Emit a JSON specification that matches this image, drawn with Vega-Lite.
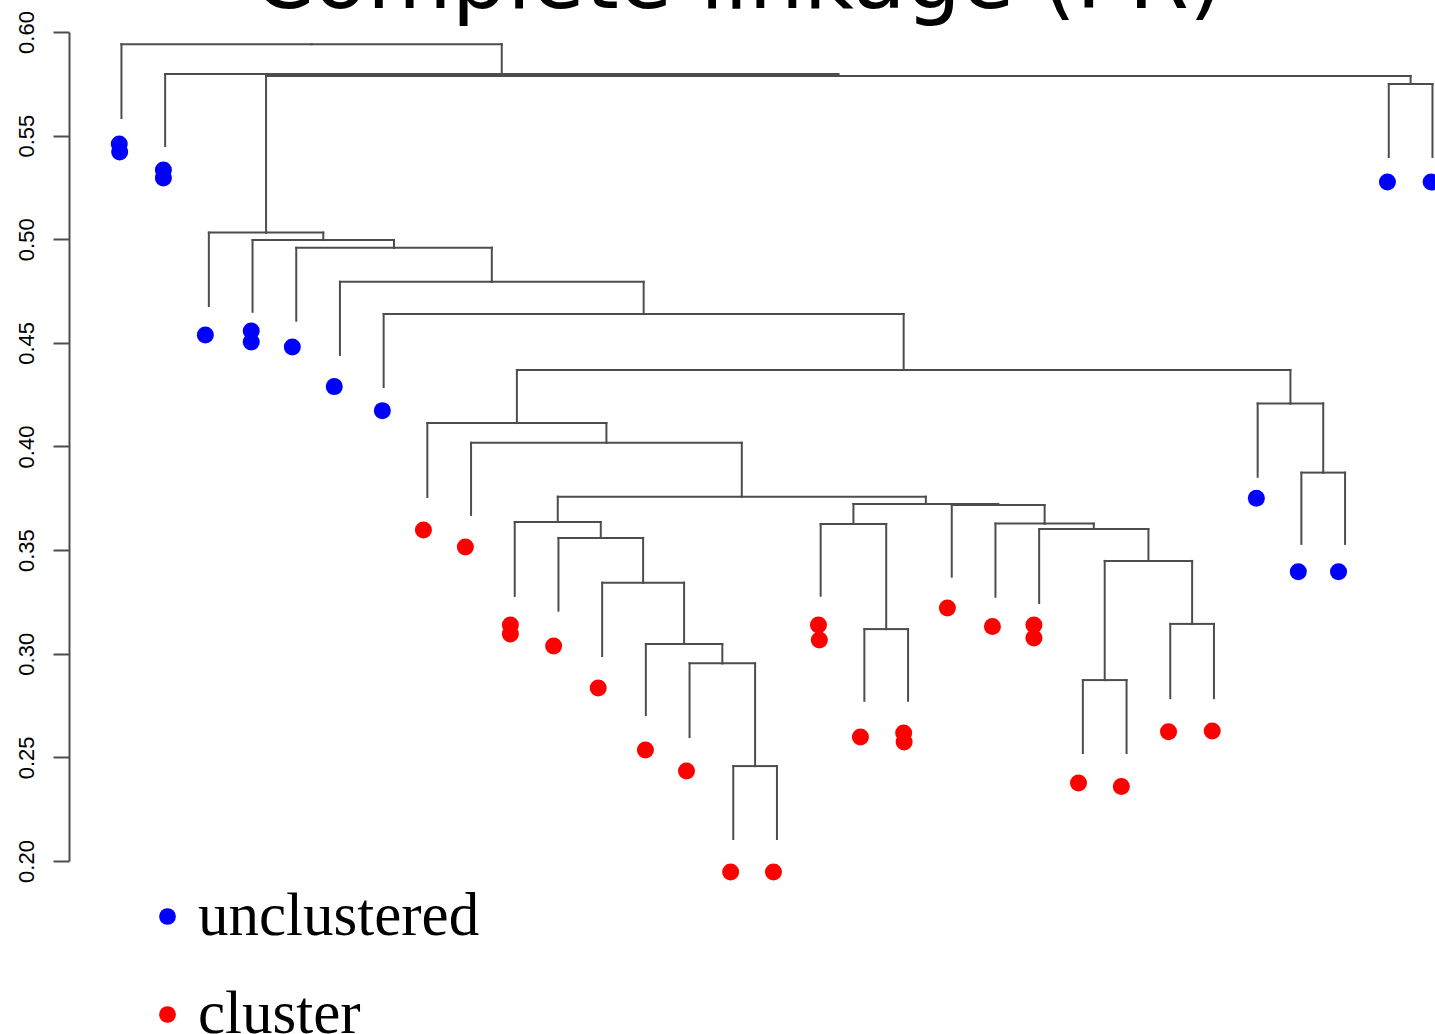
{
  "$schema": "https://vega.github.io/schema/vega-lite/v6.json",
  "autosize": {"type": "none"},
  "padding": {"left": 69, "top": 32, "right": 0, "bottom": 173},
  "width": 1366,
  "height": 829,
  "background": "white",
  "title": {"text": "Complete linkage (PR)", "font": "DejaVu Sans", "fontSize": 87, "fontWeight": "normal", "color": "black", "anchor": "middle", "baseline": "alphabetic", "offset": -84, "dx": -14, "frame": "group"},
  "config": {"view": {"stroke": null}, "axis": {"grid": false}},
  "datasets": {
    "links": [
      {"cx": 1, "ch": 0.5585, "px": 5.3512, "ph": 0.5941},
      {"cx": 9.7023, "ch": 0.5797, "px": 5.3512, "ph": 0.5941},
      {"cx": 2, "ch": 0.5450, "px": 9.7023, "ph": 0.5797},
      {"cx": 17.4047, "ch": 0.5788, "px": 9.7023, "ph": 0.5797},
      {"cx": 4.3094, "ch": 0.5032, "px": 17.4047, "ph": 0.5788},
      {"cx": 30.5, "ch": 0.5749, "px": 17.4047, "ph": 0.5788},
      {"cx": 30, "ch": 0.5397, "px": 30.5, "ph": 0.5749},
      {"cx": 31, "ch": 0.5397, "px": 30.5, "ph": 0.5749},
      {"cx": 3, "ch": 0.4678, "px": 4.3094, "ph": 0.5032},
      {"cx": 5.6187, "ch": 0.4996, "px": 4.3094, "ph": 0.5032},
      {"cx": 4, "ch": 0.4650, "px": 5.6187, "ph": 0.4996},
      {"cx": 7.2374, "ch": 0.4959, "px": 5.6187, "ph": 0.4996},
      {"cx": 5, "ch": 0.4607, "px": 7.2374, "ph": 0.4959},
      {"cx": 9.4749, "ch": 0.4795, "px": 7.2374, "ph": 0.4959},
      {"cx": 6, "ch": 0.4442, "px": 9.4749, "ph": 0.4795},
      {"cx": 12.9497, "ch": 0.4639, "px": 9.4749, "ph": 0.4795},
      {"cx": 7, "ch": 0.4287, "px": 12.9497, "ph": 0.4639},
      {"cx": 18.8994, "ch": 0.4369, "px": 12.9497, "ph": 0.4639},
      {"cx": 10.0488, "ch": 0.4113, "px": 18.8994, "ph": 0.4369},
      {"cx": 27.75, "ch": 0.4208, "px": 18.8994, "ph": 0.4369},
      {"cx": 8, "ch": 0.3756, "px": 10.0488, "ph": 0.4113},
      {"cx": 12.0977, "ch": 0.4018, "px": 10.0488, "ph": 0.4113},
      {"cx": 9, "ch": 0.3670, "px": 12.0977, "ph": 0.4018},
      {"cx": 15.1953, "ch": 0.3758, "px": 12.0977, "ph": 0.4018},
      {"cx": 10.9844, "ch": 0.3636, "px": 15.1953, "ph": 0.3758},
      {"cx": 19.4063, "ch": 0.3723, "px": 15.1953, "ph": 0.3758},
      {"cx": 10, "ch": 0.3279, "px": 10.9844, "ph": 0.3636},
      {"cx": 11.9688, "ch": 0.3559, "px": 10.9844, "ph": 0.3636},
      {"cx": 11, "ch": 0.3208, "px": 11.9688, "ph": 0.3559},
      {"cx": 12.9375, "ch": 0.3343, "px": 11.9688, "ph": 0.3559},
      {"cx": 12, "ch": 0.2989, "px": 12.9375, "ph": 0.3343},
      {"cx": 13.875, "ch": 0.3047, "px": 12.9375, "ph": 0.3343},
      {"cx": 13, "ch": 0.2704, "px": 13.875, "ph": 0.3047},
      {"cx": 14.75, "ch": 0.2954, "px": 13.875, "ph": 0.3047},
      {"cx": 14, "ch": 0.2598, "px": 14.75, "ph": 0.2954},
      {"cx": 15.5, "ch": 0.2458, "px": 14.75, "ph": 0.2954},
      {"cx": 15, "ch": 0.2106, "px": 15.5, "ph": 0.2458},
      {"cx": 16, "ch": 0.2106, "px": 15.5, "ph": 0.2458},
      {"cx": 17.75, "ch": 0.3626, "px": 19.4063, "ph": 0.3723},
      {"cx": 21.0625, "ch": 0.3718, "px": 19.4063, "ph": 0.3723},
      {"cx": 17, "ch": 0.3280, "px": 17.75, "ph": 0.3626},
      {"cx": 18.5, "ch": 0.3119, "px": 17.75, "ph": 0.3626},
      {"cx": 18, "ch": 0.2773, "px": 18.5, "ph": 0.3119},
      {"cx": 19, "ch": 0.2773, "px": 18.5, "ph": 0.3119},
      {"cx": 20, "ch": 0.3372, "px": 21.0625, "ph": 0.3718},
      {"cx": 22.125, "ch": 0.3628, "px": 21.0625, "ph": 0.3718},
      {"cx": 21, "ch": 0.3275, "px": 22.125, "ph": 0.3628},
      {"cx": 23.25, "ch": 0.3602, "px": 22.125, "ph": 0.3628},
      {"cx": 22, "ch": 0.3245, "px": 23.25, "ph": 0.3602},
      {"cx": 24.5, "ch": 0.3448, "px": 23.25, "ph": 0.3602},
      {"cx": 23.5, "ch": 0.2873, "px": 24.5, "ph": 0.3448},
      {"cx": 25.5, "ch": 0.3144, "px": 24.5, "ph": 0.3448},
      {"cx": 23, "ch": 0.2521, "px": 23.5, "ph": 0.2873},
      {"cx": 24, "ch": 0.2521, "px": 23.5, "ph": 0.2873},
      {"cx": 25, "ch": 0.2786, "px": 25.5, "ph": 0.3144},
      {"cx": 26, "ch": 0.2786, "px": 25.5, "ph": 0.3144},
      {"cx": 27, "ch": 0.3854, "px": 27.75, "ph": 0.4208},
      {"cx": 28.5, "ch": 0.3874, "px": 27.75, "ph": 0.4208},
      {"cx": 28, "ch": 0.3530, "px": 28.5, "ph": 0.3874},
      {"cx": 29, "ch": 0.3530, "px": 28.5, "ph": 0.3874}
    ],
    "dots": [
      {"idx": 0.95, "v": 0.5460, "type": "unclustered"},
      {"idx": 0.96, "v": 0.5421, "type": "unclustered"},
      {"idx": 1.96, "v": 0.5334, "type": "unclustered"},
      {"idx": 1.96, "v": 0.5296, "type": "unclustered"},
      {"idx": 2.92, "v": 0.4538, "type": "unclustered"},
      {"idx": 3.97, "v": 0.4557, "type": "unclustered"},
      {"idx": 3.97, "v": 0.4504, "type": "unclustered"},
      {"idx": 4.91, "v": 0.4480, "type": "unclustered"},
      {"idx": 5.87, "v": 0.4289, "type": "unclustered"},
      {"idx": 6.97, "v": 0.4173, "type": "unclustered"},
      {"idx": 7.91, "v": 0.3597, "type": "cluster"},
      {"idx": 8.87, "v": 0.3515, "type": "cluster"},
      {"idx": 9.90, "v": 0.3139, "type": "cluster"},
      {"idx": 9.90, "v": 0.3095, "type": "cluster"},
      {"idx": 10.89, "v": 0.3037, "type": "cluster"},
      {"idx": 11.91, "v": 0.2835, "type": "cluster"},
      {"idx": 12.99, "v": 0.2536, "type": "cluster"},
      {"idx": 13.93, "v": 0.2434, "type": "cluster"},
      {"idx": 14.94, "v": 0.1947, "type": "cluster"},
      {"idx": 15.92, "v": 0.1947, "type": "cluster"},
      {"idx": 16.95, "v": 0.3139, "type": "cluster"},
      {"idx": 16.97, "v": 0.3066, "type": "cluster"},
      {"idx": 17.91, "v": 0.2598, "type": "cluster"},
      {"idx": 18.90, "v": 0.2618, "type": "cluster"},
      {"idx": 18.91, "v": 0.2574, "type": "cluster"},
      {"idx": 19.90, "v": 0.3221, "type": "cluster"},
      {"idx": 20.93, "v": 0.3131, "type": "cluster"},
      {"idx": 21.88, "v": 0.3139, "type": "cluster"},
      {"idx": 21.88, "v": 0.3076, "type": "cluster"},
      {"idx": 22.90, "v": 0.2376, "type": "cluster"},
      {"idx": 23.88, "v": 0.2359, "type": "cluster"},
      {"idx": 24.96, "v": 0.2624, "type": "cluster"},
      {"idx": 25.96, "v": 0.2627, "type": "cluster"},
      {"idx": 26.97, "v": 0.3750, "type": "unclustered"},
      {"idx": 27.93, "v": 0.3396, "type": "unclustered"},
      {"idx": 28.85, "v": 0.3396, "type": "unclustered"},
      {"idx": 29.97, "v": 0.5276, "type": "unclustered"},
      {"idx": 30.97, "v": 0.5276, "type": "unclustered"}
    ]
  },
  "layer": [
    {
      "data": {"name": "links"},
      "mark": {"type": "rule", "color": "#4d4d4d", "strokeWidth": 2, "strokeCap": "square"},
      "encoding": {
        "x": {"field": "cx", "type": "quantitative", "scale": {"domain": [-0.2, 31.058], "nice": false, "zero": false}, "axis": null},
        "y": {"field": "ch", "type": "quantitative", "scale": {"domain": [0.2, 0.6], "nice": false, "zero": false},
          "axis": {"title": null, "values": [0.2, 0.25, 0.3, 0.35, 0.4, 0.45, 0.5, 0.55, 0.6], "format": ".2f", "tickSize": 16, "tickColor": "#4d4d4d", "tickWidth": 2, "domainColor": "#4d4d4d", "domainWidth": 2, "labelAngle": 270, "labelAlign": "center", "labelBaseline": "alphabetic", "labelPadding": 20, "labelFont": "Liberation Sans", "labelFontSize": 22, "labelColor": "black", "grid": false, "labelOverlap": false, "labelFlush": false}},
        "y2": {"field": "ph"}
      }
    },
    {
      "data": {"name": "links"},
      "mark": {"type": "rule", "color": "#4d4d4d", "strokeWidth": 2, "strokeCap": "square"},
      "encoding": {
        "x": {"field": "cx", "type": "quantitative"},
        "x2": {"field": "px"},
        "y": {"field": "ph", "type": "quantitative"}
      }
    },
    {
      "data": {"name": "dots"},
      "mark": {"type": "point", "filled": true, "shape": "circle", "size": 290, "opacity": 1},
      "encoding": {
        "x": {"field": "idx", "type": "quantitative"},
        "y": {"field": "v", "type": "quantitative"},
        "color": {"field": "type", "type": "nominal",
          "scale": {"domain": ["unclustered", "cluster"], "range": ["#0000ff", "#ff0000"]},
          "legend": {"orient": "none", "legendX": 68, "legendY": 854, "title": null, "labelFont": "Liberation Serif", "labelFontSize": 61, "labelColor": "black", "labelLimit": 600, "symbolType": "circle", "symbolSize": 280, "symbolStrokeWidth": 0, "symbolOpacity": 1, "labelOffset": 0, "rowPadding": 36, "padding": 0}}
      }
    }
  ]
}
